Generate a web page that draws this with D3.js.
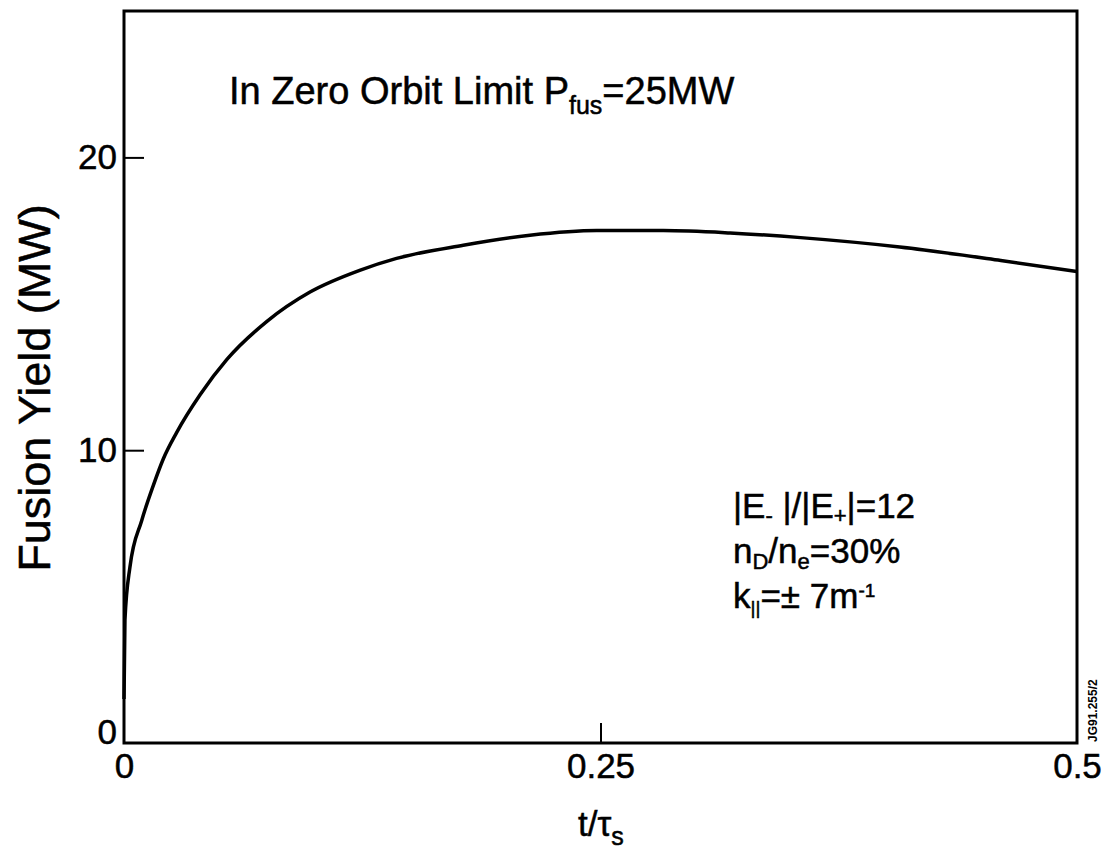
<!DOCTYPE html>
<html lang="en">
<head>
<meta charset="UTF-8">
<title>Fusion Yield vs t/tau_s</title>
<script src="https://d3js.org/d3.v7.min.js"></script>
<style>
    body { margin: 0; background: #fff; }
    svg { display: block; font-family: "Liberation Sans", Arial, sans-serif; }
    text { fill: #000; stroke: #000; stroke-width: 0.5px; }
    .tick-label { font-size: 35px; }
</style>
</head>
<body>
<svg id="chart" width="1112" height="858"></svg>
<script>
    // values
    const tValues = [0, 0.0005, 0.0031, 0.0093, 0.0154, 0.0206, 0.0276, 0.040, 0.054, 0.075, 0.0976, 0.124, 0.143, 0.178, 0.213, 0.248, 0.283, 0.318, 0.355, 0.407, 0.46, 0.5];
    const yieldValues = [1.5, 4.2, 6.0, 7.6, 8.8, 9.7, 10.6, 11.9, 13.1, 14.4, 15.4, 16.15, 16.55, 17.0, 17.34, 17.5, 17.5, 17.42, 17.26, 16.94, 16.48, 16.1];
    const xTicks = [0, 0.25, 0.5];
    const xTickLabels = ["0", "0.25", "0.5"];
    const yTicks = [0, 10, 20];
    const yTickLabels = ["0", "10", "20"];

    const margin = {top: 11, right: 35, bottom: 115, left: 124};
    const width = 1112 - margin.left - margin.right;
    const height = 858 - margin.top - margin.bottom;

    const x = d3.scaleLinear().domain([0, 0.5]).range([0, width]);
    const y = d3.scaleLinear().domain([0, 25]).range([height, 0]);

    const svg = d3.select("#chart");
    const g = svg.append("g").attr("transform", `translate(${margin.left},${margin.top})`);

    // frame
    g.append("rect")
        .attr("x", 0).attr("y", 0)
        .attr("width", width).attr("height", height)
        .attr("fill", "none").attr("stroke", "#000").attr("stroke-width", 3);

    // inward ticks
    const xAxis = g.append("g")
        .attr("transform", `translate(0,${height})`)
        .call(d3.axisBottom(x).tickValues(xTicks).tickSizeInner(-20).tickSizeOuter(0)
            .tickFormat((d, i) => xTickLabels[i]));
    xAxis.select(".domain").remove();
    xAxis.selectAll("line").attr("stroke-width", 2);
    xAxis.selectAll("text").attr("class", "tick-label").attr("dy", "0.71em").attr("y", 10);
    xAxis.selectAll(".tick").filter(d => d !== 0.25).select("line").remove();

    const yAxis = g.append("g")
        .call(d3.axisLeft(y).tickValues(yTicks).tickSizeInner(-20).tickSizeOuter(0)
            .tickFormat((d, i) => yTickLabels[i]));
    yAxis.select(".domain").remove();
    yAxis.selectAll("line").attr("stroke-width", 2);
    yAxis.selectAll("text").attr("class", "tick-label").attr("x", -7).attr("dy", "0.32em");
    yAxis.selectAll(".tick").filter(d => d === 0).select("text").attr("dy", "0em");
    yAxis.selectAll(".tick").filter(d => d === 0).select("line").remove();

    // curve
    const line = d3.line()
        .x((d, i) => x(tValues[i]))
        .y(d => y(d))
        .curve(d3.curveMonotoneX);
    g.append("path")
        .datum(yieldValues)
        .attr("fill", "none")
        .attr("stroke", "#000")
        .attr("stroke-width", 3.5)
        .attr("d", line);

    // axis titles
    svg.append("text")
        .attr("transform", "translate(50,388) rotate(-90)")
        .attr("text-anchor", "middle")
        .attr("font-size", 45)
        .text("Fusion Yield (MW)");

    const xl = svg.append("text")
        .attr("x", 578).attr("y", 836)
        .attr("font-size", 35);
    xl.append("tspan").text("t/τ");
    xl.append("tspan").attr("font-size", 25).attr("dy", 9).text("s");

    // title
    const title = svg.append("text")
        .attr("x", 229).attr("y", 104)
        .attr("font-size", 38);
    title.append("tspan").text("In Zero Orbit Limit P");
    title.append("tspan").attr("font-size", 25).attr("dy", 10).text("fus");
    title.append("tspan").attr("dy", -10).text("=25MW");

    // annotations
    const a1 = svg.append("text").attr("x", 733).attr("y", 518).attr("font-size", 35);
    a1.append("tspan").text("|E");
    a1.append("tspan").attr("font-size", 22).attr("dy", 5).text("-");
    a1.append("tspan").attr("dy", -5).text(" |/|E");
    a1.append("tspan").attr("font-size", 22).attr("dy", 5).text("+");
    a1.append("tspan").attr("dy", -5).text("|=12");

    const a2 = svg.append("text").attr("x", 733).attr("y", 563).attr("font-size", 35);
    a2.append("tspan").text("n");
    a2.append("tspan").attr("font-size", 22).attr("dy", 6).text("D");
    a2.append("tspan").attr("dy", -6).text("/n");
    a2.append("tspan").attr("font-size", 22).attr("dy", 6).text("e");
    a2.append("tspan").attr("dy", -6).text("=30%");

    const a3 = svg.append("text").attr("x", 733).attr("y", 608).attr("font-size", 35);
    a3.append("tspan").text("k");
    a3.append("tspan").attr("font-size", 19).attr("dy", 6).text("||");
    a3.append("tspan").attr("dy", -6).text("=± 7m");
    a3.append("tspan").attr("font-size", 19).attr("dy", -11).text("-1");

    // figure id
    svg.append("text")
        .attr("transform", "translate(1097,742) rotate(-90)")
        .attr("font-size", 12)
        .attr("font-weight", "bold")
        .style("stroke-width", 0)
        .text("JG91.255/2");
</script>
</body>
</html>
